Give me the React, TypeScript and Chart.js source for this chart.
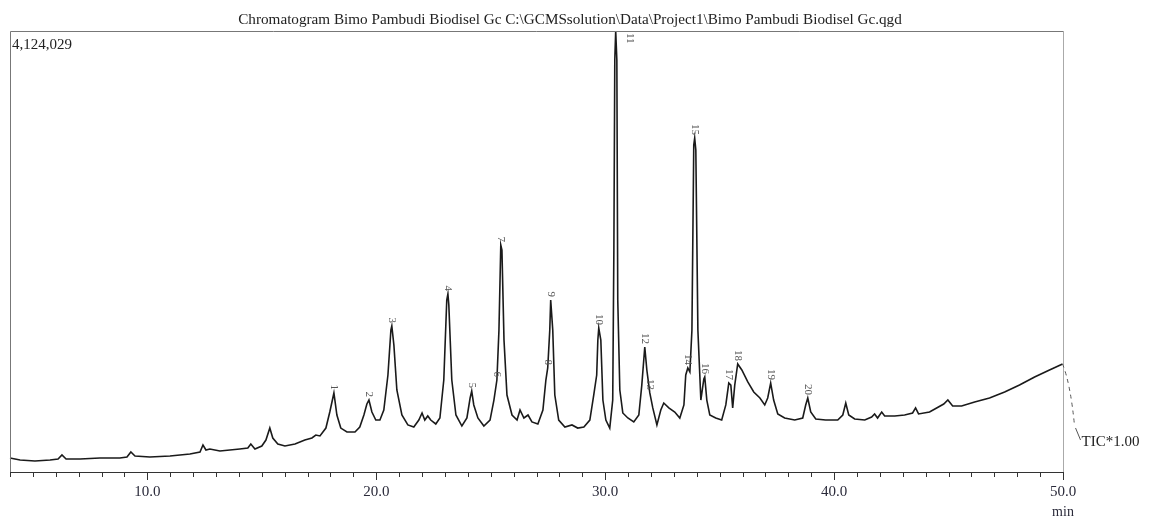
import React, { useEffect, useRef } from "react";
import { Chart, registerables } from "chart.js";

Chart.register(...registerables);

// Retention time (min) and TIC intensity (thousand counts)
const retentionTimes = [
  4.0, 4.44, 5.09, 5.75, 6.1, 6.27, 6.45, 7.06, 7.93, 8.8, 9.11, 9.28, 9.46, 10.11, 10.99, 11.86,
  12.3, 12.43, 12.56, 12.73, 13.17, 14.04, 14.39, 14.52, 14.7, 15.0, 15.18, 15.35, 15.48, 15.7,
  16.01, 16.45, 16.88, 17.19, 17.36, 17.54, 17.8, 17.97, 18.15, 18.28, 18.45, 18.72, 19.07, 19.28,
  19.46, 19.59, 19.68, 19.81, 19.98, 20.16, 20.33, 20.51, 20.64, 20.68, 20.77, 20.9, 21.12, 21.38,
  21.64, 21.86, 22.0, 22.12, 22.25, 22.38, 22.6, 22.78, 22.95, 23.08, 23.13, 23.17, 23.3, 23.48,
  23.74, 23.96, 24.1, 24.17, 24.26, 24.44, 24.7, 24.97, 25.14, 25.27, 25.36, 25.44, 25.49, 25.58,
  25.71, 25.93, 26.15, 26.28, 26.45, 26.63, 26.8, 27.06, 27.28, 27.41, 27.49, 27.58, 27.62, 27.71,
  27.8, 27.97, 28.24, 28.55, 28.8, 29.07, 29.33, 29.5, 29.63, 29.68, 29.72, 29.81, 29.9, 30.03,
  30.2, 30.33, 30.38, 30.42, 30.46, 30.51, 30.55, 30.64, 30.77, 30.99, 31.25, 31.47, 31.6, 31.73,
  31.82, 31.95, 32.08, 32.26, 32.43, 32.56, 32.78, 33.04, 33.26, 33.44, 33.52, 33.61, 33.7, 33.79,
  33.87, 33.91, 33.96, 34.05, 34.18, 34.31, 34.35, 34.44, 34.57, 34.83, 35.09, 35.27, 35.4, 35.49,
  35.57, 35.66, 35.79, 35.97, 36.23, 36.49, 36.76, 36.97, 37.1, 37.23, 37.36, 37.54, 37.84, 38.28,
  38.63, 38.76, 38.85, 38.98, 39.2, 39.63, 40.16, 40.38, 40.51, 40.64, 40.9, 41.34, 41.64, 41.77,
  41.9, 42.08, 42.21, 42.65, 43.08, 43.43, 43.56, 43.69, 44.17, 44.48, 44.79, 44.97, 45.18, 45.57,
  46.14, 46.79, 47.45, 48.1, 48.76, 49.41, 49.98,
];

const intensities = [
  131, 112, 103, 112, 122, 159, 122, 122, 131, 131, 140, 187, 150, 140, 150, 168,
  187, 252, 206, 215, 196, 215, 224, 262, 215, 243, 299, 411, 318, 262,
  243, 262, 299, 318, 346, 337, 411, 561, 739, 533, 411, 374, 374, 421,
  533, 636, 673, 561, 486, 486, 580, 907, 1328, 1365, 1188, 767, 533, 440,
  421, 486, 552, 486, 524, 486, 449, 505, 860, 1608, 1665, 1562, 860, 533,
  430, 505, 692, 757, 627, 505, 430, 486, 673, 860, 1328, 2123, 2076, 1234,
  720, 533, 486, 580, 505, 533, 468, 449, 580, 860, 973, 1328, 1608, 1328,
  720, 486, 421, 440, 411, 421, 486, 720, 907, 1234, 1346, 1234, 673, 486,
  411, 673, 2076, 3853, 4124, 3853, 1608, 767, 552, 505, 468, 533, 813, 1169,
  954, 739, 599, 440, 580, 645, 599, 561, 505, 627, 907, 973, 935, 1328,
  3058, 3123, 3011, 1328, 673, 870, 889, 673, 533, 505, 486, 627, 832, 813,
  599, 813, 1010, 954, 842, 748, 692, 627, 692, 832, 673, 543, 505, 486,
  505, 627, 692, 561, 496, 486, 486, 533, 645, 533, 496, 486, 514, 543,
  505, 561, 524, 524, 533, 552, 599, 543, 561, 599, 636, 673, 617, 617,
  655, 692, 748, 813, 889, 954, 1010,
];

const peakLabels = [
  "1", "2", "3", "4", "5", "6", "7", "8", "9", "10",
  "11", "12", "13", "14", "15", "16", "17", "18", "19", "20",
];
const peakTimes = [
  18.15, 19.68, 20.68, 23.13, 24.17, 25.27, 25.44, 27.49, 27.62, 29.72,
  30.46, 31.73, 31.95, 33.61, 33.91, 34.35, 35.4, 35.79, 37.23, 38.85,
];

const xTickValues = [10, 20, 30, 40, 50];
const xTickLabels = ["10.0", "20.0", "30.0", "40.0", "50.0"];
const xMin = 4.0;
const xMax = 50.0;
const yMax = 4124.029;
const yMaxLabel = "4,124,029";
const unitLabel = "min";
const traceLabel = "TIC*1.00";
const titleText =
  "Chromatogram Bimo Pambudi Biodisel Gc C:\\GCMSsolution\\Data\\Project1\\Bimo Pambudi Biodisel Gc.qgd";

const SERIF = '"Liberation Serif", "DejaVu Serif", serif';

const decorPlugin = {
  id: "chromDecor",
  afterDraw(chart: any) {
    const ctx: CanvasRenderingContext2D = chart.ctx;
    const { left, right, top, bottom } = chart.chartArea;
    const xs = chart.scales.x;
    const ys = chart.scales.y;
    ctx.save();

    // frame
    ctx.lineWidth = 1;
    ctx.strokeStyle = "#777";
    ctx.beginPath();
    ctx.moveTo(left + 0.5, bottom);
    ctx.lineTo(left + 0.5, top + 0.5);
    ctx.lineTo(right, top + 0.5);
    ctx.stroke();
    ctx.strokeStyle = "#aaa";
    ctx.beginPath();
    ctx.moveTo(right + 0.5, top);
    ctx.lineTo(right + 0.5, bottom);
    ctx.stroke();

    // x axis
    ctx.strokeStyle = "#333";
    ctx.lineWidth = 1.2;
    ctx.beginPath();
    ctx.moveTo(left, bottom + 0.5);
    ctx.lineTo(right + 1, bottom + 0.5);
    ctx.stroke();
    ctx.lineWidth = 1;
    for (let t = Math.ceil(xMin); t <= xMax; t++) {
      const px = Math.round(xs.getPixelForValue(t)) + 0.5;
      const len = t % 10 === 0 ? 8 : 5;
      ctx.beginPath();
      ctx.moveTo(px, bottom);
      ctx.lineTo(px, bottom + len);
      ctx.stroke();
    }

    // tick labels
    ctx.fillStyle = "#2a2a3a";
    ctx.font = `15px ${SERIF}`;
    ctx.textAlign = "center";
    ctx.textBaseline = "middle";
    xTickValues.forEach((v, i) => {
      ctx.fillText(xTickLabels[i], xs.getPixelForValue(v), bottom + 20);
    });
    ctx.font = `14px ${SERIF}`;
    ctx.fillText(unitLabel, xs.getPixelForValue(xMax), bottom + 40);

    // title, fitted to its width in the reference
    ctx.fillStyle = "#222";
    let fs = 15;
    ctx.font = `${fs}px ${SERIF}`;
    const w = ctx.measureText(titleText).width;
    fs = Math.min(17, (fs * 664) / w);
    ctx.font = `${fs}px ${SERIF}`;
    ctx.textAlign = "center";
    ctx.textBaseline = "alphabetic";
    ctx.fillText(titleText, 570, 24);

    // max label
    ctx.font = `15px ${SERIF}`;
    ctx.textAlign = "left";
    ctx.textBaseline = "middle";
    ctx.fillStyle = "#222";
    ctx.fillText(yMaxLabel, left + 2, top + 14);

    // peak labels
    ctx.font = `11px ${SERIF}`;
    ctx.fillStyle = "#555";
    peakTimes.forEach((pt, i) => {
      let best = 0;
      for (let k = 0; k < retentionTimes.length; k++) {
        if (Math.abs(retentionTimes[k] - pt) < Math.abs(retentionTimes[best] - pt)) best = k;
      }
      const px = xs.getPixelForValue(retentionTimes[best]);
      const py = ys.getPixelForValue(intensities[best]);
      const tw = ctx.measureText(peakLabels[i]).width;
      ctx.save();
      if (py - 3 - tw < top + 2) {
        ctx.translate(px + 14, top + 2);
        ctx.rotate(Math.PI / 2);
        ctx.textAlign = "left";
      } else {
        ctx.translate(px, py - 3);
        ctx.rotate(Math.PI / 2);
        ctx.textAlign = "right";
      }
      ctx.textBaseline = "middle";
      ctx.fillText(peakLabels[i], 0, 0);
      ctx.restore();
    });

    // trace tail and label
    const lastX = xs.getPixelForValue(retentionTimes[retentionTimes.length - 1]);
    const lastY = ys.getPixelForValue(intensities[intensities.length - 1]);
    ctx.strokeStyle = "#555";
    ctx.lineWidth = 1;
    ctx.setLineDash([4, 4]);
    ctx.beginPath();
    ctx.moveTo(lastX, lastY);
    ctx.quadraticCurveTo(lastX + 8, lastY + 20, lastX + 12, lastY + 62);
    ctx.stroke();
    ctx.setLineDash([]);
    ctx.beginPath();
    ctx.moveTo(lastX + 13, lastY + 64);
    ctx.lineTo(lastX + 18, lastY + 76);
    ctx.stroke();
    ctx.fillStyle = "#222";
    ctx.font = `15px ${SERIF}`;
    ctx.textAlign = "left";
    ctx.textBaseline = "middle";
    ctx.fillText(traceLabel, lastX + 19, lastY + 78);

    ctx.restore();
  },
};

export default function App() {
  const ref = useRef<HTMLCanvasElement | null>(null);
  useEffect(() => {
    if (!ref.current) return;
    const points = retentionTimes.map((t, i) => ({ x: t, y: intensities[i] }));
    const chart = new Chart(ref.current, {
      type: "line",
      data: {
        datasets: [
          {
            data: points,
            borderColor: "#1a1a1a",
            borderWidth: 1.6,
            pointRadius: 0,
            tension: 0,
            fill: false,
            clip: false as any,
          },
        ],
      },
      options: {
        animation: false,
        responsive: false,
        maintainAspectRatio: false,
        layout: { padding: { left: 10, right: 87, top: 31, bottom: 46 } },
        plugins: { legend: { display: false }, tooltip: { enabled: false }, title: { display: false } },
        scales: {
          x: { type: "linear", min: xMin, max: xMax, display: false },
          y: { type: "linear", min: 0, max: yMax, display: false },
        },
      },
      plugins: [decorPlugin],
    });
    return () => chart.destroy();
  }, []);
  return (
    <div style={{ position: "fixed", left: 0, top: 0, width: 1150, height: 518, background: "#fff" }}>
      <canvas ref={ref} width={1150} height={518} style={{ display: "block" }} />
    </div>
  );
}
